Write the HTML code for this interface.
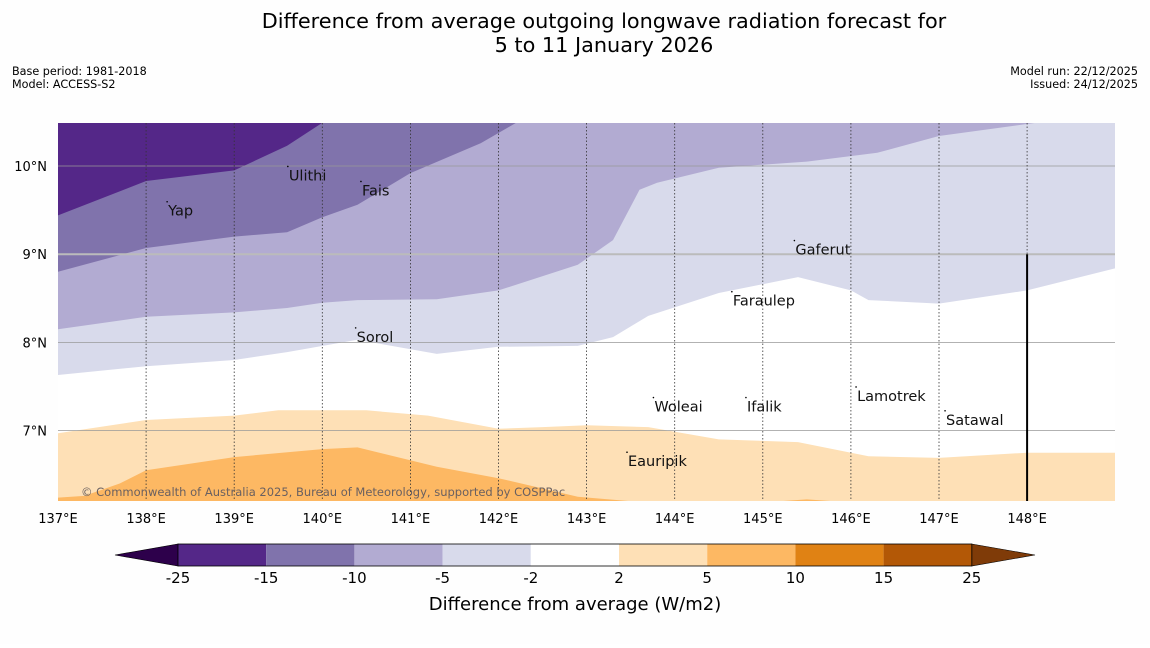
<!DOCTYPE html>
<html><head><meta charset="utf-8"><style>
body{margin:0;background:#fff;width:1150px;height:644px;overflow:hidden;font-family:"DejaVu Sans","Liberation Sans",sans-serif;}
</style></head><body>
<svg id="chart" width="1150" height="644" xmlns="http://www.w3.org/2000/svg" font-family="DejaVu Sans, Liberation Sans, sans-serif">
<rect width="1150" height="644" fill="#fefefe"/>
<text x="604" y="28" font-size="20.8" text-anchor="middle" fill="#000">Difference from average outgoing longwave radiation forecast for</text>
<text x="604" y="52" font-size="20.8" text-anchor="middle" fill="#000">5 to 11 January 2026</text>
<text x="12" y="75" font-size="11.2">Base period: 1981-2018</text>
<text x="12" y="88" font-size="11.2">Model: ACCESS-S2</text>
<text x="1138" y="75" font-size="11.2" text-anchor="end">Model run: 22/12/2025</text>
<text x="1138" y="88" font-size="11.2" text-anchor="end">Issued: 24/12/2025</text>
<defs><clipPath id="plotclip"><rect x="58" y="123" width="1057" height="378"/></clipPath></defs>
<g id="plot" clip-path="url(#plotclip)"></g>
<g id="axes"></g>
<g id="cbar"></g>
</svg>
<script>
const levels = [-25,-15,-10,-5,-2,2,5,10,15,25];
const levelColors = ["#542788","#8073ac","#b2abd2","#d8daeb","#ffffff","#fee0b6","#fdb863","#e08214","#b35806"];
const lonTicks = [137,138,139,140,141,142,143,144,145,146,147,148];
const latTicks = [7,8,9,10];
// contour boundaries: [lon, lat] points
const bndM15 = [[137,9.44],[138,9.83],[139,9.95],[139.6,10.23],[140,10.49],[141,10.7],[149,10.7]];
const bndM10 = [[137,8.8],[138,9.07],[139,9.2],[139.6,9.25],[140,9.42],[140.4,9.56],[141,9.92],[141.8,10.26],[142.2,10.49],[143,10.7],[149,10.7]];
const bndM5 = [[137,8.15],[138,8.29],[139,8.34],[139.6,8.39],[140,8.45],[140.4,8.48],[141.3,8.49],[142,8.59],[142.9,8.88],[143.3,9.16],[143.6,9.73],[143.8,9.81],[144.5,9.98],[145.5,10.05],[146.3,10.15],[147,10.34],[148.1,10.49],[149,10.7]];
const bndM2 = [[137,7.63],[138,7.73],[139,7.8],[139.6,7.89],[140.4,8.03],[141.3,7.87],[142,7.95],[142.9,7.96],[143.3,8.06],[143.7,8.3],[144.5,8.56],[145.4,8.74],[146,8.59],[146.2,8.48],[147,8.44],[148,8.59],[149,8.84]];
const bndP2 = [[137,6.97],[138,7.12],[139,7.17],[139.5,7.23],[140.5,7.23],[141.2,7.17],[142,7.02],[142.5,7.04],[143,7.06],[143.7,7.04],[144.5,6.9],[145.4,6.87],[146.2,6.71],[147,6.69],[148,6.75],[149,6.75]];
const bndP5 = [[137,6.24],[137.3,6.26],[137.7,6.4],[138,6.55],[139,6.7],[140,6.79],[140.4,6.81],[141.3,6.59],[142,6.46],[142.9,6.25],[143.5,6.2],[145.2,6.2],[145.5,6.22],[145.8,6.2],[149,6.18]];
const islands = [["Yap",138.25,9.47],["Ulithi",139.62,9.87],["Fais",140.45,9.7],["Gaferut",145.37,9.03],["Faraulep",144.66,8.45],["Sorol",140.39,8.04],["Woleai",143.77,7.25],["Ifalik",144.82,7.25],["Lamotrek",146.07,7.37],["Satawal",147.08,7.1],["Eauripik",143.47,6.63]];

const NS="http://www.w3.org/2000/svg";
const x = lon => 58 + (lon-137)*88.1;
const y = lat => 166 - (lat-10)*88.2;
function mk(tag, attrs, parent){const e=document.createElementNS(NS,tag);for(const k in attrs)e.setAttribute(k,attrs[k]);parent.appendChild(e);return e;}
const plot=document.getElementById('plot'), axes=document.getElementById('axes'), cbar=document.getElementById('cbar');

const bg=mk('rect',{x:58,y:123,width:1057,height:378,fill:levelColors[0]},plot);


const bnds=[bndM15,bndM10,bndM5,bndM2,bndP2,bndP5];
bnds.forEach((b,i)=>{
  let d='M'+x(b[0][0])+','+y(b[0][1]);
  b.forEach(p=>{d+=' L'+x(p[0]).toFixed(1)+','+y(p[1]).toFixed(1);});
  d+=' L'+x(b[b.length-1][0])+',520 L'+x(b[0][0])+',520 Z';
  const p=mk('path',{d:d,fill:levelColors[i+1]},plot);
  
  
});
// grid
latTicks.forEach(l=>{
  const g=mk('line',{x1:58,x2:1115,y1:y(l),y2:y(l),stroke:l===9?'#bbb':'#999','stroke-width':l===9?2:0.8},plot);
  
  
  const t=mk('text',{x:47,y:y(l)+5,'font-size':13,'text-anchor':'end'},axes);
  t.textContent=l+'°N';
  
  
});
lonTicks.forEach(l=>{
  if(l>137){const g=mk('line',{x1:x(l),x2:x(l),y1:123,y2:501,stroke:'#333','stroke-width':0.8,'stroke-dasharray':'1.5,2'},plot);
  
  }
  const t=mk('text',{x:x(l),y:523,'font-size':13,'text-anchor':'middle'},axes);
  t.textContent=l+'°E';
  
  
});
const bl=mk('line',{x1:x(148),x2:x(148),y1:y(9),y2:501,stroke:'#000','stroke-width':2},plot);


islands.forEach(s=>{
  const d=mk('circle',{cx:x(s[1])-1,cy:y(s[2])-11,r:0.8,fill:'#000'},plot);
  
  
  const t=mk('text',{x:x(s[1]),y:y(s[2])+3,'font-size':14.5,fill:'#111'},plot);
  t.textContent=s[0];
  
  
});
const cp=mk('text',{x:81,y:496,'font-size':11.5,fill:'#6a6060'},plot);
cp.textContent='© Commonwealth of Australia 2025, Bureau of Meteorology, supported by COSPPac';


// colorbar
const cx0=178, cw=88.2, cy0=544, ch=22;
const lt=mk('polygon',{points:`115,${cy0+ch/2} ${cx0},${cy0} ${cx0},${cy0+ch}`,fill:'#2d004b',stroke:'#000','stroke-width':0.6},cbar);


levelColors.forEach((c,i)=>{
  const r=mk('rect',{x:cx0+i*cw,y:cy0,width:cw,height:ch,fill:c},cbar);
  
  
});
const xe=cx0+levelColors.length*cw;
const rt=mk('polygon',{points:`${xe},${cy0} 1035,${cy0+ch/2} ${xe},${cy0+ch}`,fill:'#7f3b08',stroke:'#000','stroke-width':0.6},cbar);


const ob=mk('rect',{x:cx0,y:cy0,width:xe-cx0,height:ch,fill:'none',stroke:'#000','stroke-width':0.8},cbar);


levels.forEach((l,i)=>{
  const t=mk('text',{x:cx0+i*cw,y:583,'font-size':15,'text-anchor':'middle'},cbar);
  t.textContent=l;
  
  
});
const ct=mk('text',{x:575,y:610,'font-size':18,'text-anchor':'middle'},cbar);
ct.textContent='Difference from average (W/m2)';


</script>
</body></html>
